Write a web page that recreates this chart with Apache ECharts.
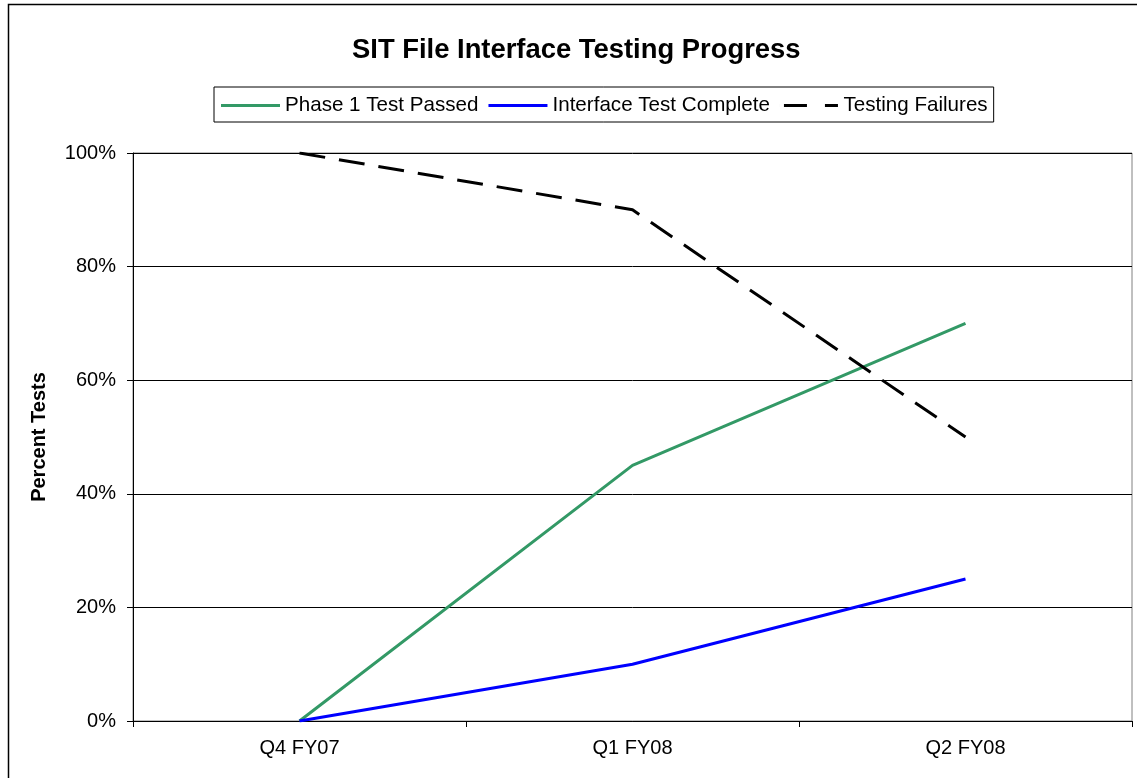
<!DOCTYPE html>
<html>
<head>
<meta charset="utf-8">
<script src="https://cdn.jsdelivr.net/npm/echarts@6/dist/echarts.min.js"></script>
<style>
  html, body { margin: 0; padding: 0; background: #fff; }
  #chart { width: 1137px; height: 778px; }
</style>
</head>
<body>
<div id="chart"></div>
<script>
// chart data
var quarters = ['Q4 FY07', 'Q1 FY08', 'Q2 FY08'];
var phase1Passed = [0, 45, 70];
var interfaceComplete = [0, 10, 25];
var testingFailures = [100, 90, 50];
var yTicks = [0, 20, 40, 60, 80, 100];

var font = 'Arial, "Liberation Sans", sans-serif';
var solidIcon = 'path://M0,0H59V3H0Z';
var dashIcon = 'path://M4,0H27V3H4Z M45,0H58V3H45Z M0,0H0.01V3H0Z';

var chart = echarts.init(document.getElementById('chart'));
chart.setOption({
  animation: false,
  backgroundColor: '#fff',
  textStyle: { fontFamily: font },
  graphic: [{
    type: 'rect',
    shape: { x: 8.5, y: 4.5, width: 1160, height: 800 },
    style: { fill: 'none', stroke: '#000', lineWidth: 1.5 },
    silent: true
  }],
  title: {
    text: 'SIT File Interface Testing Progress',
    left: 347,
    top: 32,
    textStyle: { fontFamily: font, fontSize: 27.4, fontWeight: 'bold', color: '#000' }
  },
  legend: {
    left: 214,
    top: 87,
    padding: [8, 6, 6, 7],
    borderColor: '#000',
    borderWidth: 1,
    itemWidth: 59,
    itemHeight: 3,
    itemGap: 10,
    textStyle: { fontFamily: font, fontSize: 20.6, color: '#000' },
    data: [
      { name: 'Phase 1 Test Passed', icon: solidIcon },
      { name: 'Interface Test Complete', icon: solidIcon },
      { name: 'Testing Failures', icon: dashIcon }
    ]
  },
  grid: {
    left: 133,
    right: 5,
    top: 153,
    bottom: 57,
    show: true,
    borderColor: '#808080',
    borderWidth: 1
  },
  xAxis: {
    type: 'category',
    data: quarters,
    boundaryGap: true,
    axisLine: { lineStyle: { color: '#000', width: 1 } },
    axisTick: { show: true, length: 6, lineStyle: { color: '#000' } },
    axisLabel: { fontFamily: font, fontSize: 20, color: '#000', margin: 17 }
  },
  yAxis: {
    type: 'value',
    min: yTicks[0],
    max: yTicks[yTicks.length - 1],
    interval: 20,
    name: 'Percent Tests',
    nameLocation: 'middle',
    nameGap: 84,
    nameTextStyle: { fontFamily: font, fontSize: 20, fontWeight: 'bold', color: '#000' },
    axisLine: { show: true, lineStyle: { color: '#000', width: 1 } },
    axisTick: { show: true, length: 6, lineStyle: { color: '#000' } },
    axisLabel: { fontFamily: font, fontSize: 20, color: '#000', margin: 17, formatter: '{value}%' },
    splitLine: { show: true, lineStyle: { color: '#000', width: 1 } }
  },
  series: [
    {
      name: 'Phase 1 Test Passed',
      type: 'line',
      data: phase1Passed,
      symbol: 'none',
      color: '#339966',
      lineStyle: { color: '#339966', width: 3 }
    },
    {
      name: 'Interface Test Complete',
      type: 'line',
      data: interfaceComplete,
      symbol: 'none',
      color: '#0000ff',
      lineStyle: { color: '#0000ff', width: 3 }
    },
    {
      name: 'Testing Failures',
      type: 'line',
      data: testingFailures,
      symbol: 'none',
      color: '#000',
      lineStyle: { color: '#000', width: 3, type: [26, 14] }
    }
  ]
});
</script>
</body>
</html>
